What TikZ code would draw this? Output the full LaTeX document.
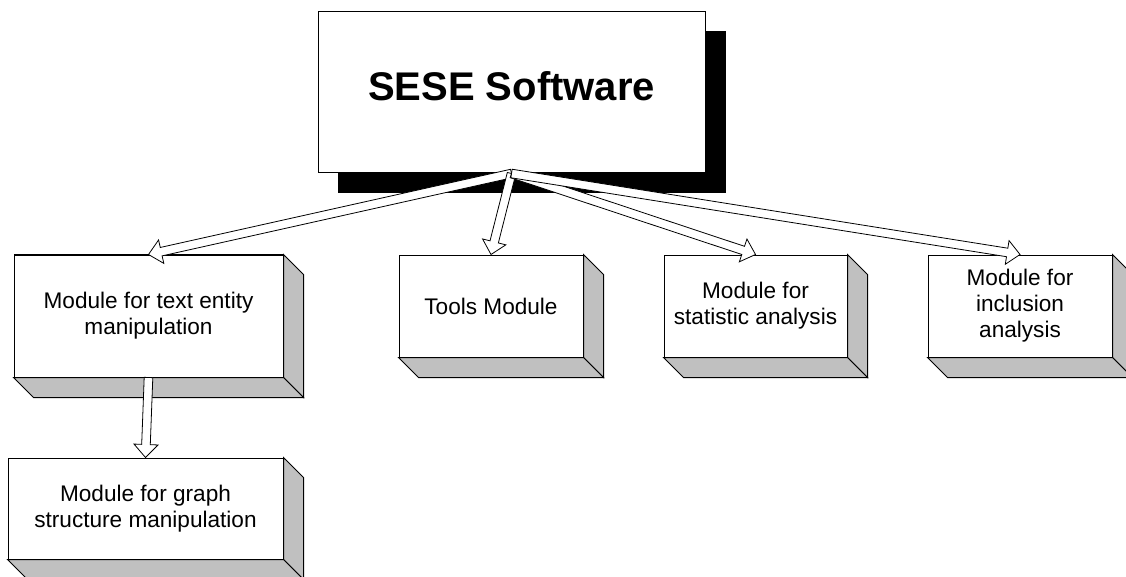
\documentclass[tikz,border=0pt]{standalone}
\usepackage{fontspec}
\setmainfont{Liberation Sans}
\usetikzlibrary{calc,backgrounds}

\definecolor{bevelgray}{RGB}{192,192,192}

\tikzset{
  x=1pt, y=-1pt,
  module/.style={draw=black, fill=white, line width=1pt, align=center,
    inner sep=0pt, font=\fontsize{22.6}{26}\selectfont},
  mainbox/.style={module, minimum width=387pt, minimum height=161pt,
    font=\bfseries\fontsize{40}{48}\selectfont, text depth=12pt},
  bevelface/.style={draw=black, fill=bevelgray, line width=1pt, line join=miter},
  shadowface/.style={fill=black},
  hollowarrow/.style={draw=black, fill=white, line width=0.8pt, line join=miter},
}

% grey side and bottom faces of a 3D module box
\newcommand{\drawbevel}[1]{%
  \draw[bevelface] (#1.north east) -- ++(20,20) -- ($(#1.south east)+(20,20)$)
    -- (#1.south east) -- cycle;
  \draw[bevelface] (#1.south west) -- (#1.south east) -- ++(20,20)
    -- ($(#1.south west)+(20,20)$) -- cycle;
}

% outlined block arrow from #1 to #2
\newcommand{\blockarrow}[2]{%
  \coordinate (neck) at ($(#2)!13pt!(#1)$);
  \draw[hollowarrow] ($(#1)!4.3pt!90:(#2)$) -- ($(neck)!4.3pt!90:(#2)$)
    -- ($(neck)!12pt!90:(#2)$) -- (#2) -- ($(neck)!12pt!-90:(#2)$)
    -- ($(neck)!4.3pt!-90:(#2)$) -- ($(#1)!4.3pt!-90:(#2)$) -- cycle;
}

\begin{document}
\begin{tikzpicture}
\useasboundingbox (0,0) rectangle (1126,577);
\clip (0,0) rectangle (1126,577);

% top-level box
\node[mainbox] (sese) at (511.5,92.5) {SESE Software};

% module boxes
\node[module, minimum width=269pt, minimum height=122pt] (text) at (148.5,316)
  {Module for text entity\\manipulation};
\node[module, minimum width=275pt, minimum height=101pt] (graph) at (145.5,508.5)
  {Module for graph\\structure manipulation};
\node[module, minimum width=184pt, minimum height=102pt] (tools) at (491,306)
  {Tools Module};
\node[module, minimum width=183pt, minimum height=102pt] (stat) at (755.5,306)
  {Module for\\statistic analysis};
\node[module, minimum width=184pt, minimum height=102pt] (incl) at (1020,306)
  {Module for\\inclusion\\analysis};

\begin{scope}[on background layer]
  \fill[shadowface] ($(sese.north west)+(20,20)$) rectangle ($(sese.south east)+(20,20)$);
  \foreach \b in {text,graph,tools,stat,incl} {\drawbevel{\b}}
\end{scope}

% connectors
\blockarrow{sese.south}{text.north}
\blockarrow{sese.south}{tools.north}
\blockarrow{sese.south}{stat.north}
\blockarrow{sese.south}{incl.north}
\blockarrow{text.south}{graph.north}
\end{tikzpicture}
\end{document}
